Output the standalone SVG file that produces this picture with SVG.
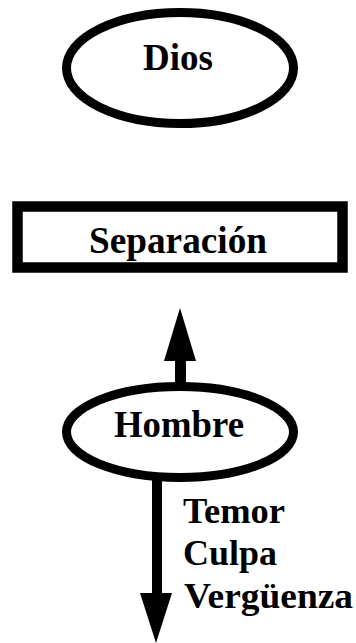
<svg xmlns="http://www.w3.org/2000/svg" width="356" height="643" viewBox="0 0 356 643">
<style>
.shape{fill:#fff;stroke:#000;}
.lbl{font-family:"Liberation Serif","Times New Roman",serif;font-weight:bold;font-size:38px;fill:#000;}
.sm{font-size:36px;}
.arrow{fill:#000;stroke:none;}
</style>
<rect width="356" height="643" fill="#fff"/>
<g id="dios">
<ellipse class="shape" cx="180" cy="68" rx="113.5" ry="55.5" stroke-width="9"/>
<text class="lbl" x="143" y="70" textLength="70" lengthAdjust="spacingAndGlyphs">Dios</text>
</g>
<g id="separacion">
<rect class="shape" x="17.5" y="206.5" width="325" height="61" stroke-width="10.5"/>
<text class="lbl" x="89" y="253" textLength="178" lengthAdjust="spacingAndGlyphs">Separación</text>
</g>
<g id="hombre">
<ellipse class="shape" cx="180" cy="432" rx="113.5" ry="45.5" stroke-width="9"/>
<text class="lbl" x="114" y="437" textLength="130" lengthAdjust="spacingAndGlyphs">Hombre</text>
</g>
<g id="connectors">
<path class="arrow" d="M180 308 L196 361 L186 361 L186 384 L175 384 L175 361 L164 361 Z"/>
<path class="arrow" d="M152 476 L162 476 L162 593 L172 593 L156 643 L140 593 L152 593 Z"/>
</g>
<g id="efectos">
<text class="lbl sm" x="183" y="523" textLength="102" lengthAdjust="spacingAndGlyphs">Temor</text>
<text class="lbl sm" x="183" y="565" textLength="94" lengthAdjust="spacingAndGlyphs">Culpa</text>
<text class="lbl sm" x="184" y="608" textLength="169" lengthAdjust="spacingAndGlyphs">Vergüenza</text>
</g>
</svg>
